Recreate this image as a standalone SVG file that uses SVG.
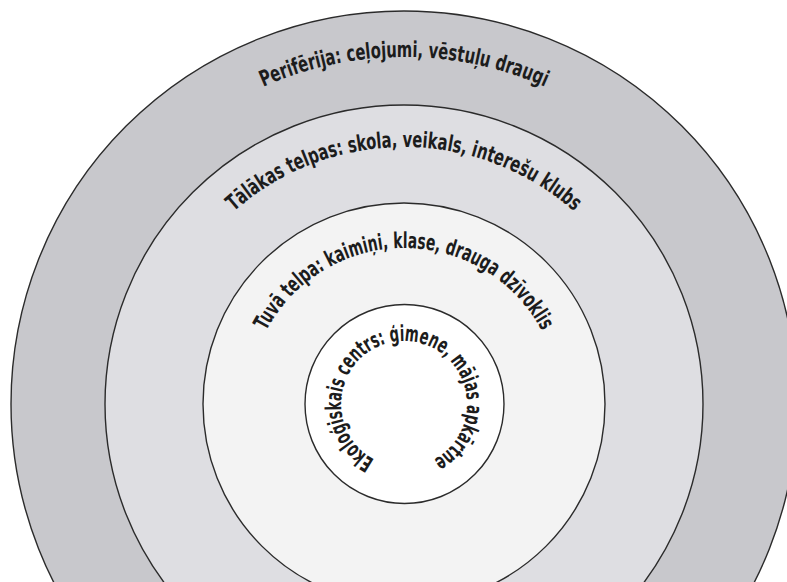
<svg xmlns="http://www.w3.org/2000/svg" xmlns:xlink="http://www.w3.org/1999/xlink" width="787" height="582" viewBox="0 0 787 582">
  <style>
    .ring { stroke: #2b2b2b; stroke-width: 1.4; }
    .lbl { font-family: "Liberation Sans Narrow", "DejaVu Sans Condensed", "Liberation Sans", sans-serif; font-stretch: condensed; font-weight: bold; font-size: 22px; fill: #1c1c1c; }
  </style>
  <defs>
    <path id="p1" d="M404,751 A347,347 0 1 1 404,57 A347,347 0 1 1 404,751"/>
    <path id="p2" d="M404,661 A257,257 0 1 1 404,147 A257,257 0 1 1 404,661"/>
    <path id="p3" d="M404,560 A156,156 0 1 1 404,248 A156,156 0 1 1 404,560"/>
    <path id="p4" d="M404,467 A63,63 0 1 1 404,341 A63,63 0 1 1 404,467"/>
  </defs>
  <rect width="787" height="582" fill="#ffffff"/>
  <g id="periferija">
    <circle class="ring" cx="404" cy="404" r="393" fill="#c8c8cc"/>
    <text class="lbl"><textPath xlink:href="#p1" href="#p1" startOffset="50%" text-anchor="middle" textLength="290" lengthAdjust="spacingAndGlyphs">Perifērija: ceļojumi, vēstuļu draugi</textPath></text>
  </g>
  <g id="talakas-telpas">
    <circle class="ring" cx="404" cy="404" r="299" fill="#dedee2"/>
    <text class="lbl"><textPath xlink:href="#p2" href="#p2" startOffset="50%" text-anchor="middle" textLength="372" lengthAdjust="spacingAndGlyphs">Tālākas telpas: skola, veikals, interešu klubs</textPath></text>
  </g>
  <g id="tuva-telpa">
    <circle class="ring" cx="404" cy="404" r="201" fill="#f3f3f3"/>
    <text class="lbl"><textPath xlink:href="#p3" href="#p3" startOffset="50%" text-anchor="middle" textLength="338" lengthAdjust="spacingAndGlyphs">Tuvā telpa: kaimiņi, klase, drauga dzīvoklis</textPath></text>
  </g>
  <g id="ekologiskais-centrs">
    <circle class="ring" cx="404.5" cy="404" r="99.5" fill="#ffffff"/>
    <text class="lbl"><textPath xlink:href="#p4" href="#p4" startOffset="50%" text-anchor="middle" textLength="334" lengthAdjust="spacingAndGlyphs">Ekoloģiskais centrs: ģimene, mājas apkārtne</textPath></text>
  </g>
</svg>
